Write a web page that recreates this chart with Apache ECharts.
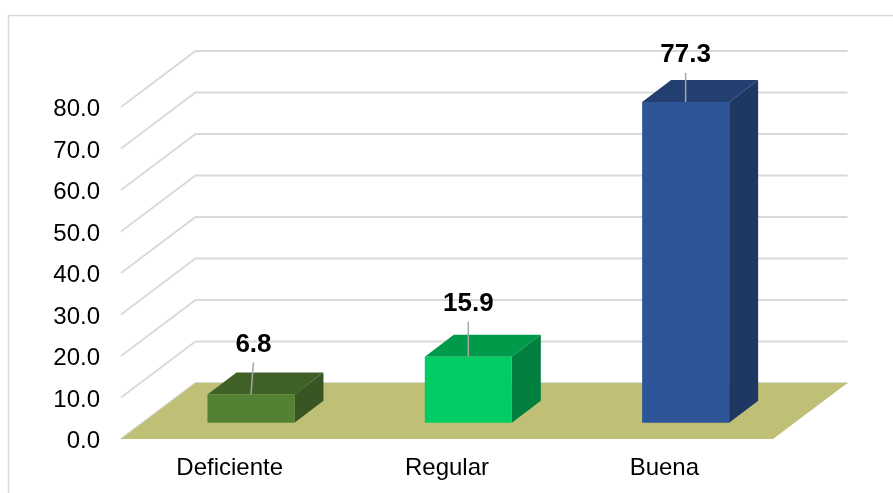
<!DOCTYPE html>
<html>
<head>
<meta charset="utf-8">
<style>html,body{margin:0;padding:0;background:#fff}#chart{width:893px;height:493px}</style>
<script src="https://cdn.jsdelivr.net/npm/echarts@6/dist/echarts.min.js"></script>
</head>
<body>
<div id="chart"></div>
<script>
// Survey results as a pseudo-3D column chart
const categories = ['Deficiente', 'Regular', 'Buena'];
const values = [6.8, 15.9, 77.3];
const yTicks = [0, 10, 20, 30, 40, 50, 60, 70, 80];

// Face colours per column
const frontColors = ['#548235', '#00CC63', '#2E5597'];
const topColors = ['#3F6128', '#009A4B', '#233F71'];
const sideColors = ['#375623', '#007F3E', '#1F3763'];

// Oblique projection: how far the back wall and the column depth shift on screen
const WALL_DX = 74.5, WALL_DY = -56;
const BAR_DX = 29, BAR_DY = -22;
const BASE_DX = 21.3, BASE_DY = -16.3;   // column front plane, measured from the floor's front edge
const BAR_WIDTH = 87;

// Leader line and label placement above each column
const labelLift = [50, 52.7, 46.7];
const leaderLift = [32, 35, 29];
const leaderLean = [2.5, 0, 0];

const poly = (points, fill, extra) => Object.assign({
  type: 'polygon', shape: { points }, style: { fill }, silent: true
}, extra || {});

function renderWall(params, api) {
  const p = api.coord([0, api.value(1)]);
  const band = api.size([1, 0])[0];
  const x0 = p[0] - band / 2;
  return {
    type: 'polyline',
    shape: { points: [[x0, p[1]], [x0 + WALL_DX, p[1] + WALL_DY], [x0 + band * 3 + WALL_DX, p[1] + WALL_DY]] },
    style: { stroke: '#D9D9D9', lineWidth: 1.8, fill: null },
    silent: true
  };
}

function renderFloor(params, api) {
  const p = api.coord([0, 0]);
  const band = api.size([1, 0])[0];
  const x0 = p[0] - band / 2, x1 = x0 + band * 3, y = p[1];
  return poly([[x0, y], [x1, y], [x1 + WALL_DX, y + WALL_DY], [x0 + WALL_DX, y + WALL_DY]], '#BFC075');
}

function renderBar(params, api) {
  const i = api.value(0);
  const v = api.value(1);
  const base = api.coord([i, 0]);
  const top = api.coord([i, v]);
  const l = base[0] - BAR_WIDTH / 2 + BASE_DX, r = l + BAR_WIDTH;
  const b = base[1] + BASE_DY, t = top[1] + BASE_DY;
  const cx = (l + r) / 2;
  return {
    type: 'group',
    children: [
      poly([[l, t], [r, t], [r + BAR_DX, t + BAR_DY], [l + BAR_DX, t + BAR_DY]], topColors[i]),
      poly([[r, t], [r + BAR_DX, t + BAR_DY], [r + BAR_DX, b + BAR_DY], [r, b]], sideColors[i]),
      poly([[l, t], [r, t], [r, b], [l, b]], frontColors[i]),
      {
        type: 'line',
        shape: { x1: cx, y1: t, x2: cx + leaderLean[i], y2: t - leaderLift[i] },
        style: { stroke: '#A6A6A6', lineWidth: 1.5 },
        silent: true
      },
      {
        type: 'text',
        x: cx + leaderLean[i],
        y: t - labelLift[i],
        style: {
          text: v.toFixed(1),
          fill: '#000',
          font: 'bold 26px "Liberation Sans", Arial, sans-serif',
          align: 'center',
          verticalAlign: 'middle'
        },
        silent: true
      }
    ]
  };
}

const chart = echarts.init(document.getElementById('chart'), null, { renderer: 'canvas' });
chart.setOption({
  animation: false,
  backgroundColor: '#fff',
  textStyle: { fontFamily: '"Liberation Sans", Arial, sans-serif' },
  graphic: [
    {
      type: 'polyline',
      shape: { points: [[8.5, 493], [8.5, 15.5], [893, 15.5]] },
      style: { stroke: '#D9D9D9', lineWidth: 1.5, fill: null },
      silent: true
    }
  ],
  grid: { left: 121, top: 107, width: 652, height: 332 },
  xAxis: {
    type: 'category',
    data: categories,
    axisLine: { show: false },
    axisTick: { show: false },
    axisLabel: { color: '#000', fontSize: 24, margin: 17 }
  },
  yAxis: {
    type: 'value',
    min: 0,
    max: 80,
    interval: 10,
    splitLine: { show: false },
    axisLine: { show: false },
    axisTick: { show: false },
    axisLabel: { color: '#000', fontSize: 24, margin: 21, verticalAlign: 'top', lineHeight: 5, formatter: v => v.toFixed(1) }
  },
  series: [
    {
      type: 'custom', name: 'walls', z: 1, clip: false,
      renderItem: renderWall,
      encode: { x: 0, y: 1 },
      data: yTicks.map(v => [0, v])
    },
    {
      type: 'custom', name: 'floor', z: 2, clip: false,
      renderItem: renderFloor,
      encode: { x: 0, y: 1 },
      data: [[0, 0]]
    },
    {
      type: 'custom', name: 'columns', z: 3, clip: false,
      renderItem: renderBar,
      encode: { x: 0, y: 1 },
      data: values.map((v, i) => [i, v])
    }
  ]
});
</script>
</body>
</html>
